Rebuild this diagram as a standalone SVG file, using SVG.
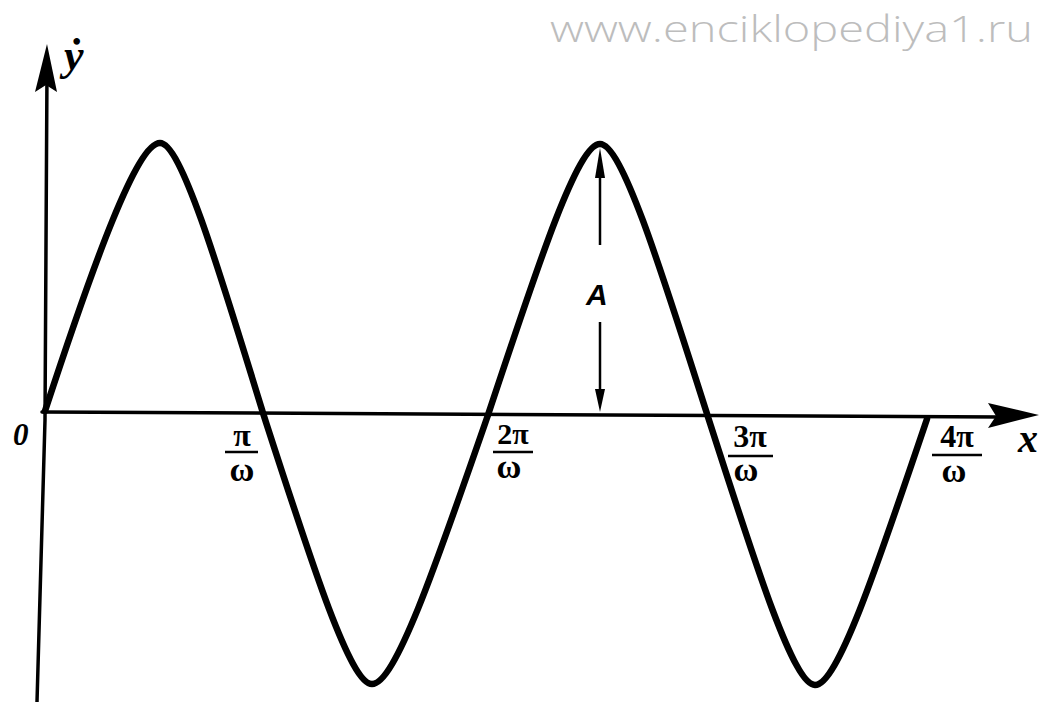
<svg xmlns="http://www.w3.org/2000/svg" width="1043" height="702" viewBox="0 0 1043 702">
<style>
.axis{fill:none;stroke:#000;stroke-width:3.5;stroke-linecap:round;stroke-linejoin:round}
.wave{fill:none;stroke:#000;stroke-width:6.5;stroke-linecap:round;stroke-linejoin:round}
.thin{fill:none;stroke:#000;stroke-width:2.5}
.bar{stroke:#000;stroke-width:2.5}
.lbl{font-family:"Liberation Serif","Times New Roman",serif;font-weight:bold;fill:#000}
.it{font-style:italic}
.wm{font-family:"Open Sans","Liberation Sans",sans-serif;font-weight:300;fill:#bdbdbd}
</style>
<rect width="1043" height="702" fill="#fff"/>
<g id="watermark">
<text class="wm" x="550" y="42" font-size="36" textLength="483" lengthAdjust="spacingAndGlyphs">www.enciklopediya1.ru</text>
</g>
<g id="axes">
<polyline class="axis" points="47,70 45,420 37,702"/>
<polygon points="47,44 57,92 46,85 35,92" fill="#000"/>
<line class="axis" x1="42" y1="412" x2="1000" y2="417"/>
<polygon points="988,403 1039,415 988,428 996,416" fill="#000"/>
</g>
<g id="curve">
<path class="wave" d="M45,411 C94,262 137,143 160,143 C180.6,143 216.7,261.8 263,413 C312.1,564.8 350.2,684 372,684 C395.2,684 435.8,565.6 488,415 C538.4,263.2 577.6,144 600,144 C621.6,144 659.4,264.1 708,417 C756.2,567.1 793.6,685 815,685 C837.4,685 876.6,568 927,419"/>
</g>
<g id="amplitude">
<line class="thin" x1="600" y1="170" x2="600" y2="245"/>
<polygon points="600,148 605,178 595,178" fill="#000"/>
<line class="thin" x1="600" y1="322" x2="600" y2="395"/>
<polygon points="600,412 605,389 595,389" fill="#000"/>
<text class="it" x="586" y="305" font-size="30" font-family="Liberation Sans, Arial, sans-serif" font-weight="bold">A</text>
</g>
<g id="labels">
<g id="label-y"><text class="lbl it" x="64" y="70" font-size="44">ẏ</text></g>
<g id="label-0"><text class="lbl it" x="13" y="445" font-size="31" font-weight="normal">0</text></g>
<g id="label-x"><text class="lbl it" x="1018" y="452" font-size="40">x</text></g>
<g id="label-pi">
<text class="lbl" x="242" y="446" font-size="32" text-anchor="middle">π</text>
<line class="bar" x1="225" y1="452" x2="258" y2="452"/>
<text class="lbl" x="242" y="481" font-size="34" text-anchor="middle">ω</text>
</g>
<g id="label-2pi">
<text class="lbl" x="513" y="444" font-size="30" text-anchor="middle">2π</text>
<line class="bar" x1="493" y1="452" x2="533" y2="452"/>
<text class="lbl" x="509" y="478" font-size="34" text-anchor="middle">ω</text>
</g>
<g id="label-3pi">
<text class="lbl" x="750" y="447" font-size="32" text-anchor="middle">3π</text>
<line class="bar" x1="728" y1="456" x2="773" y2="456"/>
<text class="lbl" x="746" y="481" font-size="34" text-anchor="middle">ω</text>
</g>
<g id="label-4pi">
<text class="lbl" x="957" y="447" font-size="32" text-anchor="middle">4π</text>
<line class="bar" x1="932" y1="455" x2="982" y2="455"/>
<text class="lbl" x="954" y="482" font-size="34" text-anchor="middle">ω</text>
</g>
</g>
</svg>
